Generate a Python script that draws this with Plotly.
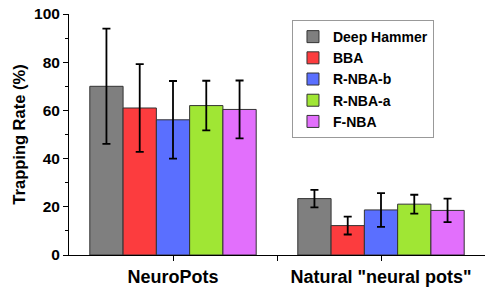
import plotly.graph_objects as go

categories = ["NeuroPots", 'Natural "neural pots"']
series_names = ["Deep Hammer", "BBA", "R-NBA-b", "R-NBA-a", "F-NBA"]
values = {
    "Deep Hammer": [70.0, 23.4],
    "BBA": [61.0, 12.2],
    "R-NBA-b": [56.1, 18.7],
    "R-NBA-a": [62.0, 21.1],
    "F-NBA": [60.4, 18.5],
}
errors = {
    "Deep Hammer": [23.9, 3.6],
    "BBA": [18.2, 3.7],
    "R-NBA-b": [16.1, 7.0],
    "R-NBA-a": [10.3, 3.9],
    "F-NBA": [12.0, 4.9],
}
colors = ["#7f7f7f", "#fc3c3e", "#5a6fff", "#a0e634", "#e26ffc"]
y_ticks = [0, 20, 40, 60, 80, 100]

FONT = "Liberation Sans, Arial, sans-serif"

fig = go.Figure()
xpos = list(range(len(categories)))
for name, c in zip(series_names, colors):
    fig.add_trace(go.Bar(
        x=xpos, y=values[name], name=name,
        marker=dict(color=c, line=dict(color="#333333", width=1)),
        error_y=dict(type="data", array=errors[name], color="black", thickness=1.8, width=4),
    ))

fig.update_layout(
    width=485, height=290,
    margin=dict(l=69, r=0, t=14, b=34.5),
    paper_bgcolor="white", plot_bgcolor="white",
    barmode="group", bargap=0.2, bargroupgap=0,
    font=dict(family=FONT, color="black"),
    legend=dict(
        x=0.536, y=0.975, xanchor="left", yanchor="top",
        bordercolor="#999999", borderwidth=1, bgcolor="white",
        font=dict(size=14, weight="bold", family=FONT),
        tracegroupgap=0, itemwidth=30,
    ),
    xaxis=dict(
        range=[-0.5, 1.5], tickmode="array", tickvals=[0, 0.5, 1],
        ticktext=[categories[0], "", categories[1]],
        ticks="outside", ticklen=5, tickwidth=1, tickcolor="black",
        showline=True, linecolor="black", linewidth=1, showgrid=False, zeroline=False,
        tickfont=dict(size=18, weight="bold", family=FONT),
        automargin=False, ticklabeloverflow="allow",
    ),
    yaxis=dict(
        range=[0, 100], tickmode="array", tickvals=y_ticks,
        ticks="outside", ticklen=5, tickwidth=1, tickcolor="black",
        minor=dict(tickvals=[10, 30, 50, 70, 90], ticks="outside", ticklen=3, tickcolor="black"),
        showline=True, linecolor="black", linewidth=1, showgrid=False, zeroline=False,
        tickfont=dict(size=15.5, weight="bold", family=FONT),
        title=dict(text="Trapping Rate (%)", font=dict(size=16.5, weight="bold", family=FONT), standoff=4),
        automargin=False, ticklabeloverflow="allow",
    ),
)

fig.write_html(
    "out.html",
    config={"displayModeBar": False},
    post_script="document.body.style.margin='0';document.body.style.overflow='hidden';",
)
